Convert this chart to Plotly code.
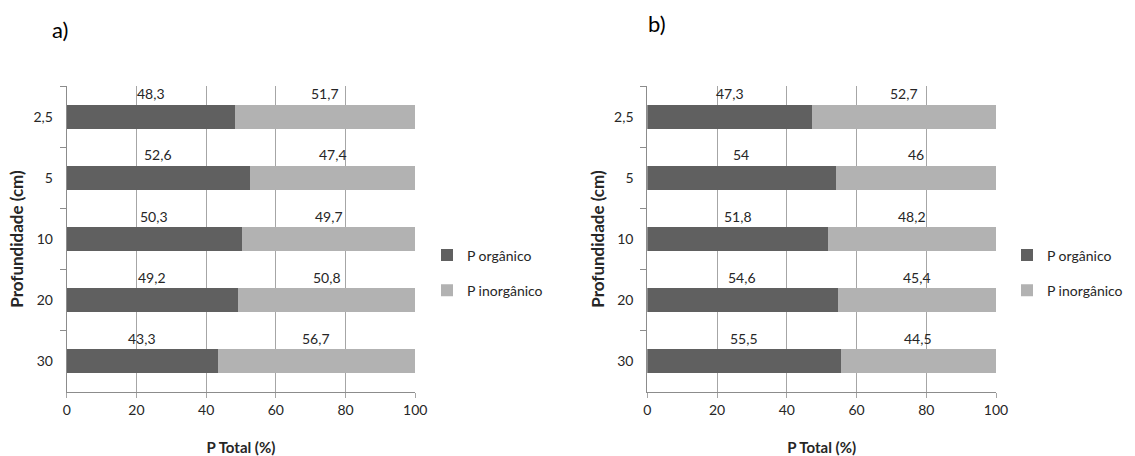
import plotly.graph_objects as go

depths = ["2,5", "5", "10", "20", "30"]
org_a = [48.3, 52.6, 50.3, 49.2, 43.3]
inorg_a = [51.7, 47.4, 49.7, 50.8, 56.7]
org_b = [47.3, 54, 51.8, 54.6, 55.5]
inorg_b = [52.7, 46, 48.2, 45.4, 44.5]
x_ticks = [0, 20, 40, 60, 80, 100]

DARK = "#606060"
LIGHT = "#b2b2b2"
GRID = "#a6a6a6"
AXIS = "#8c8c8c"
TXT = "#262626"
FONT = "Lato, Open Sans, sans-serif"
W, H = 1135, 456

fig = go.Figure()


def fmt(v):
    return ("%g" % v).replace(".", ",")


panels = [
    (org_a, inorg_a, "x", "y", "legend"),
    (org_b, inorg_b, "x2", "y2", "legend2"),
]
annotations = []
for org, inorg, xa, ya, lg in panels:
    fig.add_trace(go.Bar(y=depths, x=org, orientation="h", name="P orgânico",
                         marker=dict(color=DARK, line=dict(width=0)), width=0.39,
                         xaxis=xa, yaxis=ya, legend=lg, legendgroup=lg + "o"))
    fig.add_trace(go.Bar(y=depths, x=inorg, orientation="h", name="P inorgânico",
                         marker=dict(color=LIGHT, line=dict(width=0)), width=0.39,
                         xaxis=xa, yaxis=ya, legend=lg, legendgroup=lg + "i"))
    for idx, (o, i) in enumerate(zip(org, inorg)):
        annotations.append(dict(x=o / 2, y=idx, xref=xa, yref=ya, text=fmt(o),
                                showarrow=False, yshift=23,
                                font=dict(family=FONT, size=14, color=TXT)))
        annotations.append(dict(x=o + i / 2, y=idx, xref=xa, yref=ya, text=fmt(i),
                                showarrow=False, yshift=23,
                                font=dict(family=FONT, size=14, color=TXT)))

annotations.append(dict(x=59.5 / W, y=1 - 29 / H, xref="paper", yref="paper", text="a)",
                        showarrow=False, xanchor="center", yanchor="middle",
                        font=dict(family=FONT, size=22, color="#000")))
annotations.append(dict(x=657 / W, y=1 - 24 / H, xref="paper", yref="paper", text="b)",
                        showarrow=False, xanchor="center", yanchor="middle",
                        font=dict(family=FONT, size=22, color="#000")))

xdom_a = [66.7 / W, 415.3 / W]
xdom_b = [647.3 / W, 996 / W]
ydom = [1 - 392 / H, 1 - 86 / H]


def xaxis(dom, anchor):
    return dict(domain=dom, anchor=anchor, range=[0, 100], tickvals=x_ticks,
                ticktext=[str(t) for t in x_ticks], showgrid=True, gridcolor=GRID, gridwidth=1,
                showline=True, linecolor=AXIS, linewidth=1, ticks="outside", ticklen=5,
                tickcolor=GRID, zeroline=False, automargin=False,
                tickfont=dict(family=FONT, size=14, color=TXT),
                title=dict(text="<b>P Total (%)</b>", standoff=26,
                           font=dict(family=FONT, size=15, color=TXT)))


def yaxis(anchor):
    return dict(domain=ydom, anchor=anchor, type="category", categoryorder="array",
                categoryarray=depths, range=[4.5, -0.5], automargin=False,
                showgrid=False, showline=True, linecolor=AXIS, linewidth=1,
                ticks="outside", tickson="boundaries", ticklen=6, tickcolor=AXIS,
                tickfont=dict(family=FONT, size=14, color=TXT), ticklabelstandoff=10,
                title=dict(text="<b>Profundidade (cm)</b>", standoff=5,
                           font=dict(family=FONT, size=17, color=TXT)))


legend_common = dict(font=dict(family=FONT, size=14, color=TXT), bgcolor="rgba(0,0,0,0)",
                     tracegroupgap=14, traceorder="grouped", itemwidth=30,
                     xanchor="left", yanchor="middle")

fig.update_layout(
    width=W, height=H,
    margin=dict(l=0, r=0, t=0, b=0),
    paper_bgcolor="white", plot_bgcolor="white",
    barmode="stack",
    xaxis=xaxis(xdom_a, "y"), yaxis=yaxis("x"),
    xaxis2=xaxis(xdom_b, "y2"), yaxis2=yaxis("x2"),
    legend=dict(x=427 / W, y=1 - 273 / H, **legend_common),
    legend2=dict(x=1007 / W, y=1 - 273 / H, **legend_common),
    annotations=annotations,
    showlegend=True,
)

fig.write_html("out.html")
